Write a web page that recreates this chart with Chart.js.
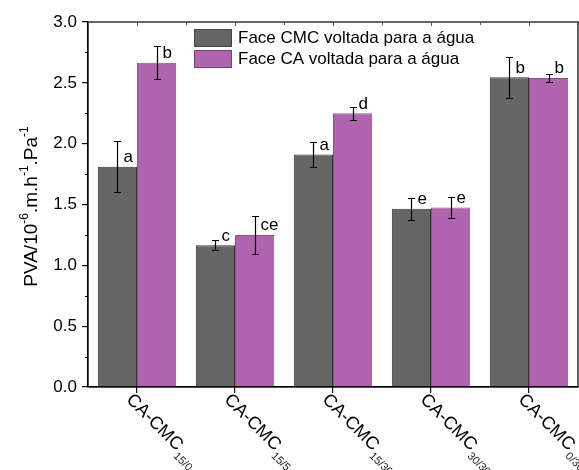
<!DOCTYPE html>
<html>
<head>
<meta charset="utf-8">
<script src="https://cdn.jsdelivr.net/npm/chart.js@4.4.1/dist/chart.umd.min.js"></script>
<style>
  html, body { margin: 0; padding: 0; background: #fff; }
  #wrap { width: 579px; height: 470px; position: relative; }
</style>
</head>
<body>
<div id="wrap"><canvas id="c"></canvas></div>
<script>
// Sample groups (main label + subscript)
const categories = ['CA-CMC', 'CA-CMC', 'CA-CMC', 'CA-CMC', 'CA-CMC'];
const subscripts = ['15/0', '15/5', '15/30', '30/30', '0/30'];

// Water vapour permeability, mean and standard deviation
const seriesNames = ['Face CMC voltada para a água', 'Face CA voltada para a água'];
const cmcMean = [1.81, 1.165, 1.91, 1.465, 2.545];
const cmcSd   = [0.21, 0.04, 0.10, 0.09, 0.17];
const caMean  = [2.665, 1.25, 2.25, 1.475, 2.54];
const caSd    = [0.135, 0.155, 0.053, 0.09, 0.03];

// Statistical grouping letters
const cmcLetters = ['a', 'c', 'a', 'e', 'b'];
const caLetters  = ['b', 'ce', 'd', 'e', 'b'];

const yTicks = [0, 0.5, 1.0, 1.5, 2.0, 2.5, 3.0];

const FONT = "'Liberation Sans', Arial, sans-serif";
const GRAY = '#666666';
const PURPLE = '#b064ad';

const sdSets = [cmcSd, caSd];
const letterSets = [cmcLetters, caLetters];

const decorations = {
  id: 'decorations',
  afterDatasetsDraw(chart) {
    const ctx = chart.ctx;
    const area = chart.chartArea;
    const x = chart.scales.x;
    const y = chart.scales.y;
    ctx.save();

    // error bars and letters
    chart.data.datasets.forEach((ds, di) => {
      const meta = chart.getDatasetMeta(di);
      meta.data.forEach((bar, i) => {
        const v = ds.data[i];
        const sd = sdSets[di][i];
        const cx = Math.round(bar.x) + 0.5;
        const yt = Math.round(y.getPixelForValue(v + sd)) + 0.5;
        const yb = Math.round(y.getPixelForValue(v - sd)) + 0.5;
        ctx.strokeStyle = '#000';
        ctx.lineWidth = 1.2;
        ctx.beginPath();
        ctx.moveTo(cx, yt); ctx.lineTo(cx, yb);
        ctx.moveTo(cx - 3.5, yt); ctx.lineTo(cx + 3.5, yt);
        ctx.moveTo(cx - 3.5, yb); ctx.lineTo(cx + 3.5, yb);
        ctx.stroke();
        ctx.fillStyle = '#000';
        ctx.font = '17px ' + FONT;
        ctx.textAlign = 'left';
        ctx.textBaseline = 'alphabetic';
        ctx.fillText(letterSets[di][i], bar.x + 6, y.getPixelForValue(v) - 4.5);
      });
    });

    // frame
    ctx.strokeStyle = '#000';
    ctx.lineWidth = 1.2;
    ctx.strokeRect(area.left, area.top, area.right - area.left, area.bottom - area.top);

    // minor y ticks
    ctx.lineWidth = 1;
    for (let i = 0; i < yTicks.length - 1; i++) {
      const py = Math.round(y.getPixelForValue((yTicks[i] + yTicks[i + 1]) / 2)) + 0.5;
      ctx.beginPath();
      ctx.moveTo(area.left - 3, py); ctx.lineTo(area.left, py);
      ctx.stroke();
    }
    // top axis ticks at centers and boundaries
    const n = categories.length;
    const step = (area.right - area.left) / n;
    ctx.strokeStyle = '#555';
    for (let i = 0; i <= n * 2; i++) {
      const px = Math.round(area.left + i * step / 2) + 0.5;
      ctx.beginPath();
      ctx.moveTo(px, area.top); ctx.lineTo(px, area.top + (i % 2 ? 4 : 3));
      ctx.stroke();
    }

    // rotated category labels with subscripts
    categories.forEach((lab, i) => {
      const tx = x.getPixelForValue(i);
      ctx.save();
      ctx.translate(tx - 8, area.bottom + 10);
      ctx.rotate(Math.PI / 4);
      ctx.fillStyle = '#000';
      ctx.textAlign = 'left';
      ctx.textBaseline = 'middle';
      ctx.font = '18px ' + FONT;
      ctx.fillText(lab, 0, 0);
      const w = ctx.measureText(lab).width;
      ctx.fillStyle = '#222';
      ctx.font = '11px ' + FONT;
      ctx.fillText(subscripts[i], w + 1, 8);
      ctx.restore();
    });

    // y axis title with superscripts
    ctx.save();
    ctx.translate(37, (area.top + area.bottom) / 2 + 2);
    ctx.rotate(-Math.PI / 2);
    ctx.fillStyle = '#000';
    ctx.textBaseline = 'alphabetic';
    ctx.textAlign = 'left';
    const parts = [
      ['PVA/10', false], ['-6', true], ['.m.h', false], ['-1', true], ['.Pa', false], ['-1', true]
    ];
    const mainF = '19px ' + FONT, supF = '12px ' + FONT;
    let total = 0;
    parts.forEach(([t, s]) => { ctx.font = s ? supF : mainF; total += ctx.measureText(t).width; });
    let cx = -total / 2;
    parts.forEach(([t, s]) => {
      ctx.font = s ? supF : mainF;
      ctx.fillText(t, cx, s ? -9 : 0);
      cx += ctx.measureText(t).width;
    });
    ctx.restore();

    // legend
    const colors = [GRAY, PURPLE];
    const borders = ['#444', '#7a3f78'];
    seriesNames.forEach((name, i) => {
      const by = 29 + i * 21;
      ctx.fillStyle = colors[i];
      ctx.fillRect(194, by, 38, 18);
      ctx.strokeStyle = borders[i];
      ctx.lineWidth = 1;
      ctx.strokeRect(194.5, by + 0.5, 37, 17);
      ctx.fillStyle = '#000';
      ctx.font = '17px ' + FONT;
      ctx.textBaseline = 'middle';
      ctx.textAlign = 'left';
      ctx.fillText(name, 238, by + 9.5);
    });

    ctx.restore();
  }
};

new Chart(document.getElementById('c'), {
  type: 'bar',
  data: {
    labels: categories,
    datasets: [
      { label: seriesNames[0], data: cmcMean, backgroundColor: GRAY, borderColor: '#333', borderWidth: 1 },
      { label: seriesNames[1], data: caMean, backgroundColor: PURPLE, borderColor: '#8a5088', borderWidth: 1 }
    ]
  },
  options: {
    responsive: true,
    maintainAspectRatio: false,
    animation: false,
    devicePixelRatio: 1,
    layout: { padding: { top: 22, right: 1, left: 0, bottom: 0 } },
    plugins: { legend: { display: false }, tooltip: { enabled: false } },
    datasets: { bar: { categoryPercentage: 0.8, barPercentage: 1.0 } },
    scales: {
      x: {
        offset: true,
        grid: { offset: false, drawOnChartArea: false, tickLength: 6, tickColor: '#000', lineWidth: 1.2 },
        border: { color: '#000', width: 1.2 },
        ticks: { display: false },
        afterFit(s) { s.height = 83; }
      },
      y: {
        min: 0, max: 3,
        afterBuildTicks(s) { s.ticks = yTicks.map(v => ({ value: v })); },
        grid: { drawOnChartArea: false, tickLength: 6, tickColor: '#000', lineWidth: 1.2 },
        border: { color: '#000', width: 1.2 },
        ticks: {
          color: '#000', padding: 5,
          font: { family: FONT, size: 17 },
          callback: v => Number(v).toFixed(1)
        },
        afterFit(s) { s.width = 88; }
      }
    }
  },
  plugins: [decorations]
});
</script>
</body>
</html>
